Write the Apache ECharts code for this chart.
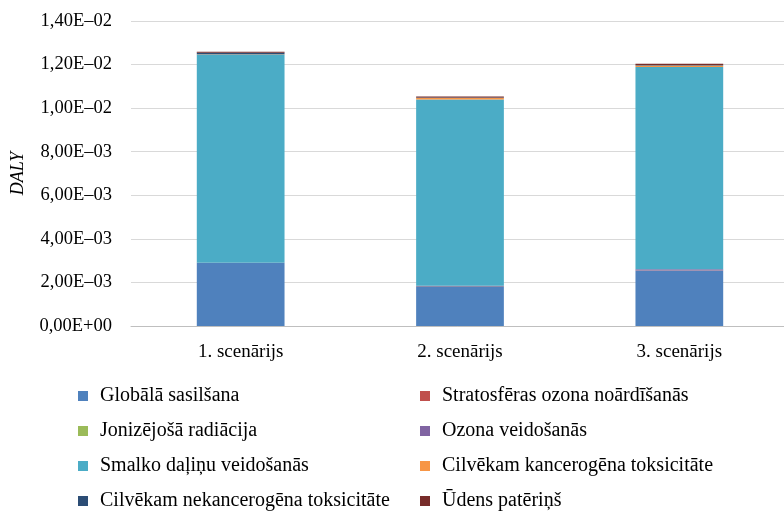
<!DOCTYPE html>
<html><head><meta charset="utf-8">
<script src="https://cdn.jsdelivr.net/npm/echarts@6/dist/echarts.min.js"></script>
<style>html,body{margin:0;padding:0;background:#fff}#c{width:784px;height:511px}</style>
</head><body><div id="c"></div>
<script>
const categories = ['1. scenārijs', '2. scenārijs', '3. scenārijs'];
const seriesNames = ['Globālā sasilšana','Stratosfēras ozona noārdīšanās','Jonizējošā radiācija','Ozona veidošanās','Smalko daļiņu veidošanās','Cilvēkam kancerogēna toksicitāte','Cilvēkam nekancerogēna toksicitāte','Ūdens patēriņš'];
const globala = [0.00289, 0.00183, 0.00255];
const stratosferas = [0.000005, 0.000004, 0.000005];
const jonizejosa = [0.000001, 0.000001, 0.000001];
const ozona = [0.000012, 0.00001, 0.00005];
const smalko = [0.00955, 0.00855, 0.00928];
const kancerogena = [0.00002, 0.00007, 0.00007];
const nekancerogena = [0.00006, 0.00002, 0.00003];
const udens = [0.00005, 0.00005, 0.00005];
const yTicks = [0, 0.002, 0.004, 0.006, 0.008, 0.01, 0.012, 0.014];
const colors = ['#4F81BD','#C0504D','#9BBB59','#8064A2','#4BACC6','#F79646','#2C4D75','#772C2A'];
const dataArr = [globala, stratosferas, jonizejosa, ozona, smalko, kancerogena, nekancerogena, udens];
const font = 'Liberation Serif';
function fmt(v){
  let s = Number(v).toExponential(2);
  let [m, e] = s.split('e');
  let sign = e[0] === '-' ? '–' : '+';
  let n = Math.abs(parseInt(e,10));
  return m.replace('.', ',') + 'E' + sign + (n < 10 ? '0' + n : n);
}
const chart = echarts.init(document.getElementById('c'));
function legendCfg(extra, size){
  return Object.assign({
    orient: 'vertical', icon: 'rect', itemWidth: 10, itemHeight: 10, itemGap: 15,
    height: 200,
    textStyle: {fontFamily: font, fontSize: size, lineHeight: 20, color: '#000', padding: [0,0,0,7]},
    selectedMode: false
  }, extra);
}
chart.setOption({
  animation: false,
  color: colors,
  grid: {left: 131, right: -5, top: 21, bottom: 185, containLabel: false, outerBoundsMode: 'none'},
  legend: [
    legendCfg({left: 73, top: 381, data: [seriesNames[0], seriesNames[2], seriesNames[4], seriesNames[6]]}, 20),
    legendCfg({left: 415, top: 381, data: [seriesNames[1], seriesNames[3], seriesNames[5], seriesNames[7]]}, 20)
  ],
  xAxis: {
    type: 'category', data: categories,
    axisLine: {lineStyle: {color: '#bfbfbf'}}, axisTick: {show: false},
    axisLabel: {fontFamily: font, fontSize: 19, color: '#000', margin: 17}
  },
  yAxis: {
    type: 'value', min: 0, max: 0.014, interval: 0.002,
    name: 'DALY', nameLocation: 'middle', nameGap: 104, nameRotate: 90,
    nameTextStyle: {fontFamily: font, fontSize: 18, fontStyle: 'italic', color: '#000'},
    axisLine: {show: false}, axisTick: {show: false},
    splitLine: {lineStyle: {color: '#d9d9d9'}},
    axisLabel: {fontFamily: font, fontSize: 18.5, color: '#000', margin: 19, formatter: fmt}
  },
  series: seriesNames.map((n, i) => ({
    name: n, type: 'bar', stack: 'total', barWidth: '40%',
    data: dataArr[i], itemStyle: {color: colors[i]}
  }))
});
</script></body></html>
